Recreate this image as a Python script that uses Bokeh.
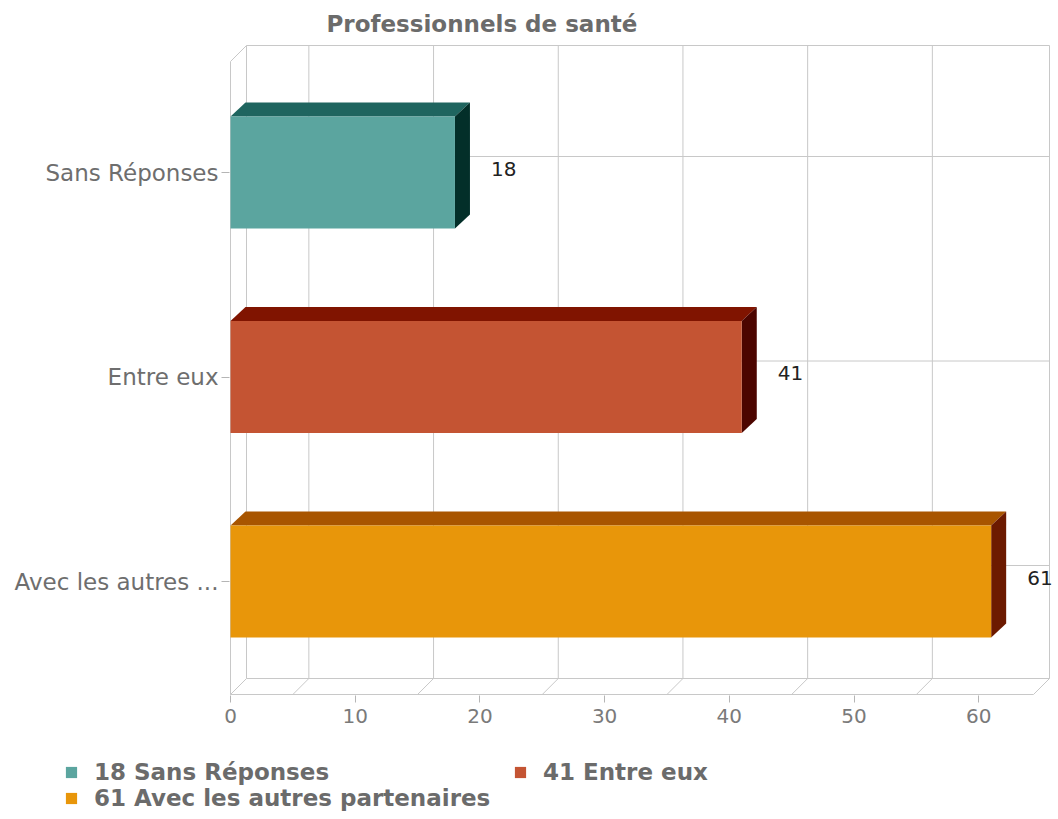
from bokeh.plotting import figure
from bokeh.models import Range1d, FixedTicker, Legend, LegendItem
from bokeh.layouts import column
from bokeh.embed import file_html
from bokeh.resources import INLINE
from bokeh.core.properties import value

# ---------------- data ----------------
title_text = "Professionnels de santé"
categories = ["Sans Réponses", "Entre eux", "Avec les autres partenaires"]
axis_labels = ["Sans Réponses", "Entre eux", "Avec les autres ..."]
values = [18, 41, 61]
front_colors = ["#5ba59f", "#c45433", "#e8960a"]
top_colors = ["#1f655f", "#801400", "#a85500"]
side_colors = ["#032f29", "#4c0500", "#6c1a00"]
x_ticks = [0, 10, 20, 30, 40, 50, 60]
grid_values = [5, 15, 25, 35, 45, 55]

# ---------------- layout constants (screen px) ----------------
PX = 12.47     # px per x unit
SP = 204.5     # px per category step
X0 = 230       # screen x of value 0 (front plane)
Y0 = 581       # screen y of lowest category centre (front plane)
FL, FR, FT, FB = 229, 1058, 44, 695
H = 819
H1 = 745                              # height of chart part, legend below
AXIS_END = (1033 - X0) / PX          # end of front floor
DXw, DYw = 16 / PX, 16 / SP          # wall depth
DXb, DYb = 15 / PX, 14 / SP          # bar depth
HALF = 56 / SP                       # half bar thickness

n = len(categories)
pos = [n - 1 - i for i in range(n)]

p = figure(
    frame_width=FR - FL, frame_height=FB - FT,
    min_border_left=FL, min_border_right=0,
    min_border_top=FT, min_border_bottom=H1 - FB,
    x_range=Range1d((FL - X0) / PX, (FR - X0) / PX),
    y_range=Range1d((Y0 - FB) / SP, (Y0 - FT) / SP),
    output_backend="svg", toolbar_location=None,
    background_fill_color="white", border_fill_color="white",
)
p.outline_line_color = None
p.xgrid.grid_line_color = None
p.ygrid.grid_line_color = None

# ---------------- 3D walls / grid ----------------
ff = (Y0 - 694) / SP        # front floor
tb = (Y0 - 45) / SP         # back top
xs, ys = [], []
def seg(x1, y1, x2, y2):
    xs.append([x1, x2]); ys.append([y1, y2])
seg(0, ff, AXIS_END, ff)
seg(DXw, ff + DYw, AXIS_END + DXw, ff + DYw)
seg(DXw, tb, AXIS_END + DXw, tb)
seg(0, ff, 0, tb - DYw)
seg(DXw, ff + DYw, DXw, tb)
seg(0, tb - DYw, DXw, tb)
seg(AXIS_END + DXw, ff + DYw, AXIS_END + DXw, tb)
for g in [0] + grid_values + [AXIS_END]:
    seg(g, ff, g + DXw, ff + DYw)
for g in grid_values:
    seg(g + DXw, ff + DYw, g + DXw, tb)
for c in pos:
    seg(DXw, c + DYw, AXIS_END + DXw, c + DYw)
p.multi_line(xs, ys, line_color="#c8c8c8", line_width=1)

# ---------------- bars ----------------
top_x, top_y, side_x, side_y = [], [], [], []
for v, c in zip(values, pos):
    t, b = c + HALF, c - HALF
    top_x.append([0, v, v + DXb, DXb]); top_y.append([t, t, t + DYb, t + DYb])
    side_x.append([v, v + DXb, v + DXb, v]); side_y.append([t, t + DYb, b + DYb, b])
p.patches(top_x, top_y, fill_color=top_colors, line_color=None)
p.patches(side_x, side_y, fill_color=side_colors, line_color=None)
front = p.quad(left=[0] * n, right=values,
               bottom=[c - HALF for c in pos], top=[c + HALF for c in pos],
               fill_color=front_colors, line_color=None)

p.text(x=values, y=pos, text=[str(v) for v in values], x_offset=36, y_offset=-4,
       text_baseline="middle", text_align="left",
       text_font=value("DejaVu Sans"), text_font_size="20px", text_color="#222222")

# ---------------- axes ----------------
p.xaxis.ticker = FixedTicker(ticks=x_ticks)
p.xaxis.axis_line_color = None
p.xaxis.major_tick_in = 0
p.xaxis.major_tick_out = 7
p.xaxis.minor_tick_line_color = None
p.xaxis.major_tick_line_color = "#b5b5b5"
p.xaxis.major_label_text_font = "DejaVu Sans"
p.xaxis.major_label_text_font_size = "20px"
p.xaxis.major_label_text_color = "#7a7a7a"
p.xaxis.major_label_standoff = 6

p.yaxis.ticker = FixedTicker(ticks=pos)
p.yaxis.major_label_overrides = {c: lab for c, lab in zip(pos, axis_labels)}
p.yaxis.axis_line_color = None
p.yaxis.major_tick_in = 0
p.yaxis.major_tick_out = 8
p.yaxis.minor_tick_line_color = None
p.yaxis.major_tick_line_color = "#b5b5b5"
p.yaxis.major_label_text_font = "DejaVu Sans"
p.yaxis.major_label_text_font_size = "23px"
p.yaxis.major_label_text_color = "#6e6e6e"
p.yaxis.major_label_standoff = 3

# ---------------- title ----------------
p.title.text = title_text
p.title.text_font = "DejaVu Sans"
p.title.text_font_size = "23px"
p.title.text_font_style = "bold"
p.title.text_color = "#6b6b6b"
p.title.align = "left"
p.title.offset = 97
p.title.standoff = 16

# ---------------- legend (own strip below the chart) ----------------
labels = [f"{v} {c}" for v, c in zip(values, categories)]
q = figure(
    frame_width=FR, frame_height=H - H1,
    min_border_left=0, min_border_right=0, min_border_top=0, min_border_bottom=0,
    x_range=Range1d(-2, -1), y_range=Range1d(-2, -1),
    x_axis_location=None, y_axis_location=None,
    output_backend="svg", toolbar_location=None,
    background_fill_color="white", border_fill_color="white",
)
q.outline_line_color = None
q.xgrid.grid_line_color = None
q.ygrid.grid_line_color = None
swatch = q.quad(left=[0] * n, right=values, bottom=pos, top=[c + 1 for c in pos],
                fill_color=front_colors, line_color=None)
legend = Legend(items=[LegendItem(label=labels[i], renderers=[swatch], index=i) for i in range(n)],
                location=(64, 8), orientation="horizontal", ncols=2,
                glyph_width=14, glyph_height=14, label_standoff=16, spacing=-9,
                label_width=419,
                padding=0, margin=0, border_line_color=None, background_fill_alpha=0,
                label_text_font="DejaVu Sans", label_text_font_size="23px",
                label_text_font_style="bold", label_text_color="#6b6b6b")
q.add_layout(legend, "center")

layout = column(p, q, spacing=0)
open("out.html", "w").write(file_html(layout, INLINE))
